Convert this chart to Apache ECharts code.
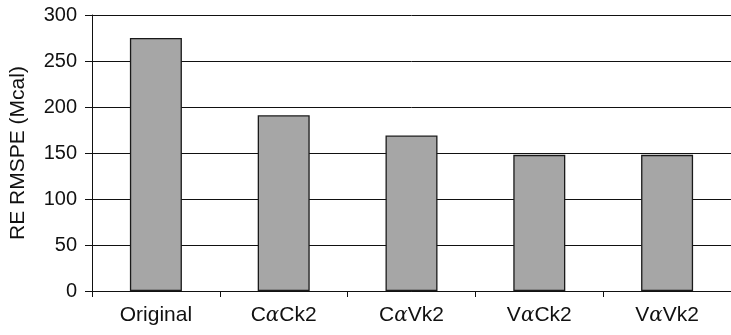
<!DOCTYPE html>
<html>
<head>
<meta charset="utf-8">
<script src="https://cdn.jsdelivr.net/npm/echarts@6/dist/echarts.min.js"></script>
<style>html,body{margin:0;padding:0;background:#fff}#c{width:731px;height:335px}</style>
</head>
<body>
<div id="c"></div>
<script>
const categories = ['Original', 'CαCk2', 'CαVk2', 'VαCk2', 'VαVk2'];
const values = [275, 191, 169, 148, 148];
const yTicks = [0, 50, 100, 150, 200, 250, 300];
const yName = 'RE RMSPE (Mcal)';

const chart = echarts.init(document.getElementById('c'), null, {renderer: 'canvas'});
const font = '"Liberation Sans", Arial, Helvetica, sans-serif';
chart.setOption({
  animation: false,
  backgroundColor: '#fff',
  grid: {left: 89, top: 15, width: 644, height: 276, containLabel: false},
  xAxis: {
    type: 'category',
    data: categories,
    boundaryGap: true,
    axisLine: {lineStyle: {color: '#111', width: 1}},
    axisTick: {show: true, length: 6, lineStyle: {color: '#111'}},
    axisLabel: {
      color: '#111', fontSize: 21, fontFamily: font, margin: 14,
      formatter: v => v.replace('α', '{a|α}'),
      rich: {a: {fontStyle: 'italic', fontSize: 20, fontFamily: '"DejaVu Serif", serif', color: '#111'}}
    },
    splitLine: {show: false}
  },
  yAxis: {
    type: 'value',
    min: yTicks[0], max: yTicks[yTicks.length - 1], interval: 50,
    name: yName, nameLocation: 'middle', nameGap: 63,
    nameTextStyle: {color: '#111', fontSize: 21, fontFamily: font},
    axisLine: {show: true, lineStyle: {color: '#111', width: 1}},
    axisTick: {show: true, length: 7, lineStyle: {color: '#111'}},
    axisLabel: {color: '#111', fontSize: 20, fontFamily: font, margin: 15},
    splitLine: {show: true, lineStyle: {color: '#111', width: 1}}
  },
  series: [{
    type: 'bar',
    data: values,
    barWidth: 52,
    itemStyle: {color: '#a6a6a6', borderColor: '#1a1a1a', borderWidth: 1.3}
  }]
});
</script>
</body>
</html>
